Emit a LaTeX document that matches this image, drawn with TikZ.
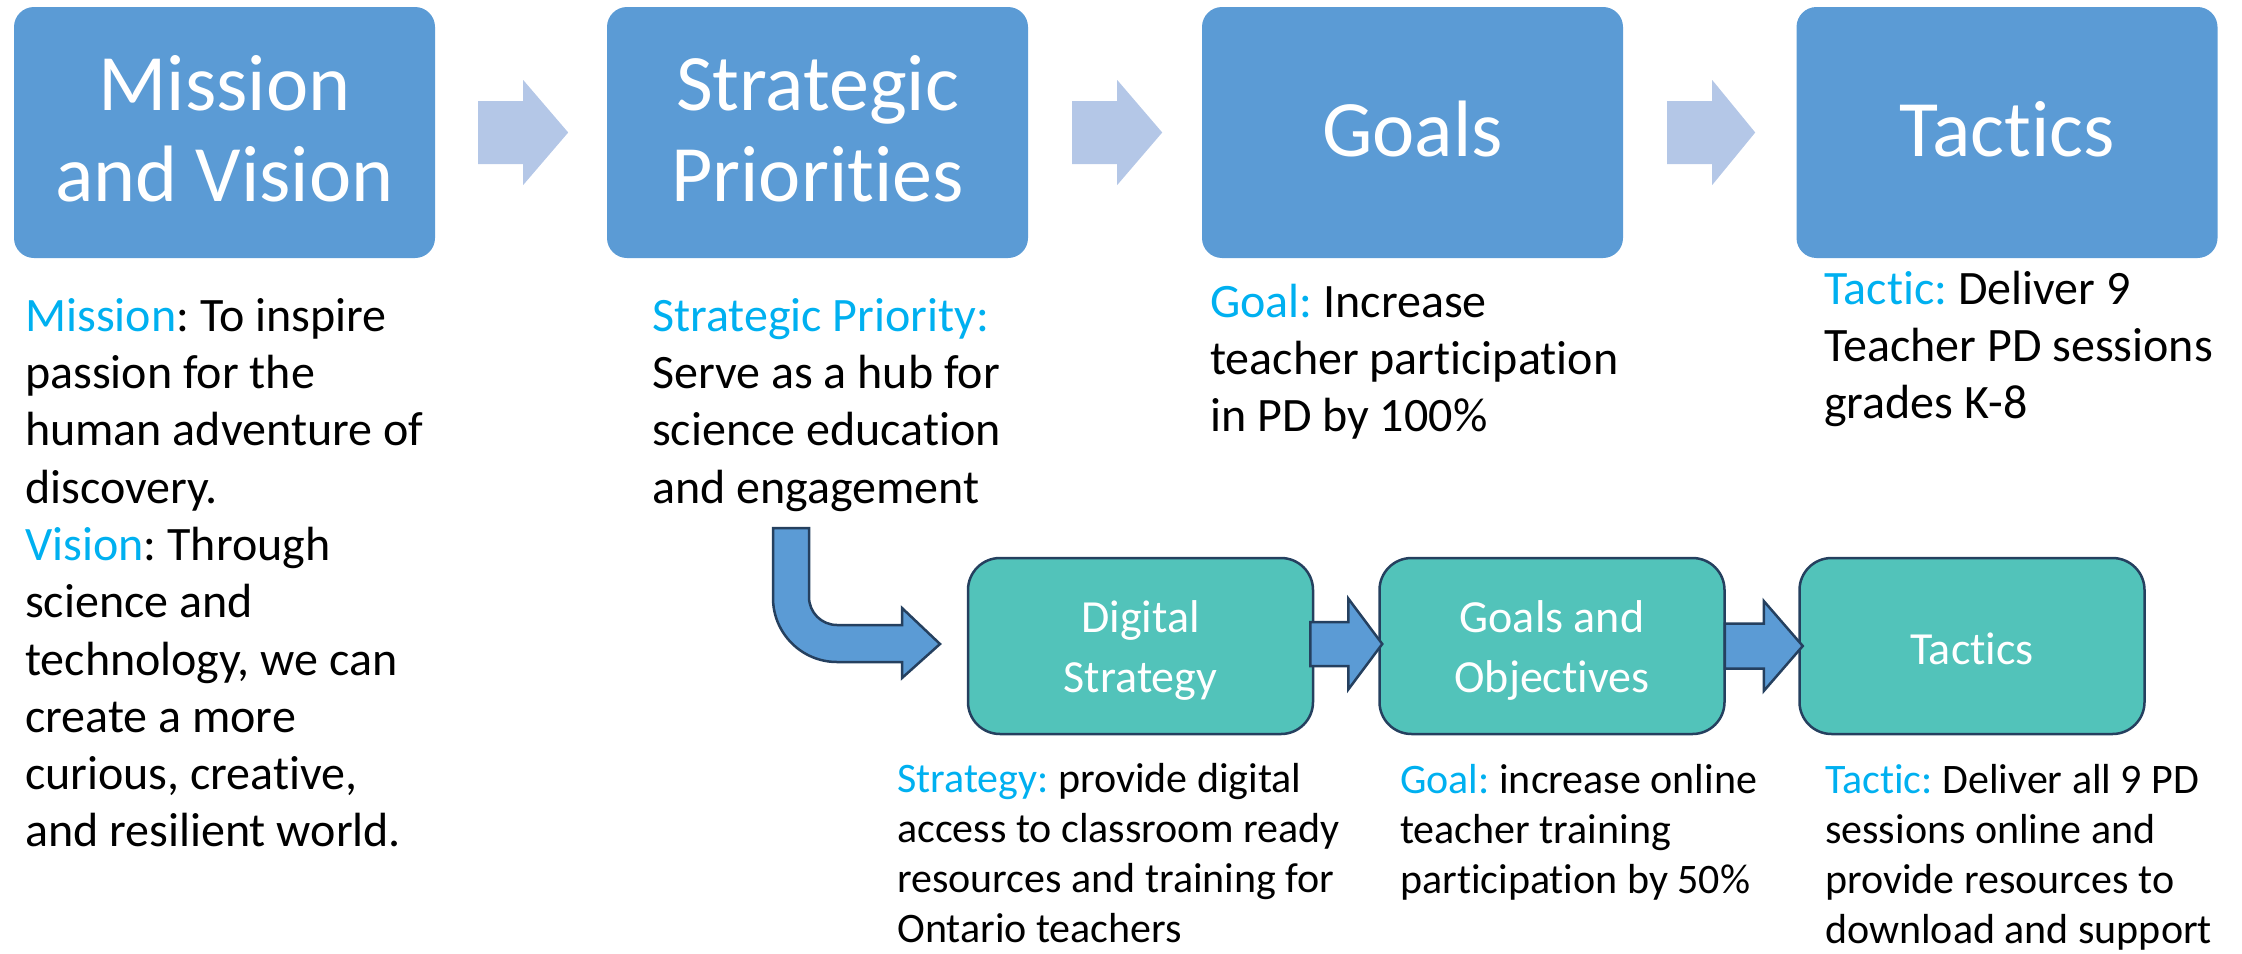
\documentclass[tikz,border=0pt]{standalone}
\usepackage{fontspec}
\setmainfont{Carlito}[Ligatures=NoCommon]
\usetikzlibrary{calc}
\definecolor{boxblue}{HTML}{5B9BD5}
\definecolor{paleblue}{HTML}{B4C7E7}
\definecolor{tealbox}{HTML}{52C3BA}
\definecolor{navy}{HTML}{25405F}
\definecolor{labc}{HTML}{00B0F0}
\frenchspacing
\newcommand{\lab}[1]{\textcolor{labc}{#1}}
\newcommand{\bigstrut}{\rule{0pt}{40pt}}
\newcommand{\smallstrut}{\rule{0pt}{36pt}}
\newcommand{\topstrut}[1]{\rule{0pt}{#1}}
\newcommand{\botstrut}[1]{\rule[-#1]{0pt}{#1}}
% #1 style, #2 start point, #3 length, #4 head length, #5 shaft half width, #6 head half width
\newcommand{\blockarr}[6]{%
  \path[#1, shift={#2}] (0,-#5) -- (#3-#4,-#5) -- (#3-#4,-#6) -- (#3,0) -- (#3-#4,#6) -- (#3-#4,#5) -- (0,#5) -- cycle;}
\tikzset{
  topbox/.style={fill=boxblue, rounded corners=20pt, minimum width=421pt, minimum height=251pt,
    text=white, align=center, font=\fontsize{80}{91}\selectfont, inner sep=0pt},
  tealnode/.style={fill=tealbox, draw=navy, line width=2.5pt, rounded corners=32pt,
    minimum width=345pt, minimum height=176pt, text=white, align=center,
    font=\fontsize{46}{60}\selectfont, inner sep=0pt},
  palearrow/.style={fill=paleblue},
  bluearrow/.style={fill=boxblue, draw=navy, line width=2.5pt, line join=miter},
  bodytext/.style={anchor=north west, align=left, inner sep=0pt, font=\fontsize{48}{57.3}\selectfont},
  smalltext/.style={anchor=north west, align=left, inner sep=0pt, font=\fontsize{42}{50}\selectfont}
}
\begin{document}
\begin{tikzpicture}[x=1pt,y=-1pt]
\path[use as bounding box] (0,0) rectangle (2242,953);

% top row
\node[topbox] (mv) at (224.5,132.5) {\topstrut{70pt}Mission\\and Vision\botstrut{24pt}};
\node[topbox] (sp) at (817.5,132.5) {\topstrut{70pt}Strategic\\Priorities\botstrut{24pt}};
\node[topbox] (go) at (1412.5,132.5) {\topstrut{70pt}Goals\botstrut{23pt}};
\node[topbox] (ta) at (2007,132.5) {\topstrut{70pt}Tactics\botstrut{23pt}};

\blockarr{palearrow}{($(mv.east)+(43,0)$)}{90}{45}{31.5}{52.5}
\blockarr{palearrow}{($(sp.east)+(44,0)$)}{90}{45}{31.5}{52.5}
\blockarr{palearrow}{($(go.east)+(44,0)$)}{88}{43}{31.5}{52.5}

% top texts (first baselines at 331, 331, 317, 304)
\node[bodytext] (mtext) at (25,291) {\bigstrut\lab{Mission}: To inspire\\passion for the\\human adventure of\\discovery.\\\lab{Vision}: Through\\science and\\technology, we can\\create a more\\curious, creative,\\and resilient world.};
\node[bodytext] (sptext) at (652,291) {\bigstrut\lab{Strategic Priority:}\\Serve as a hub for\\science education\\and engagement};
\node[bodytext] (gtext) at (1210,277) {\bigstrut\lab{Goal:} Increase\\teacher participation\\in PD by 100\%};
\node[bodytext] (ttext) at (1824,264) {\bigstrut\lab{Tactic:} Deliver 9\\Teacher PD sessions\\grades K-8};

% bottom row
\node[tealnode] (ds) at (1140.5,646) {\topstrut{45pt}Digital\\Strategy\botstrut{13pt}};
\node[tealnode] (gob) at (1552,646) {\topstrut{45pt}Goals and\\Objectives\botstrut{13pt}};
\node[tealnode] (tb) at (1972,646) {\topstrut{45pt}Tactics\botstrut{9pt}};

\blockarr{bluearrow}{($(ds.east)+(-4,-2)$)}{72}{34}{22}{45.5}
\blockarr{bluearrow}{($(gob.east)+(-1,0)$)}{78}{39}{22.5}{45}

% bent arrow
\draw[bluearrow] (773,528) -- (773,598) .. controls (773,633.3) and (801.7,662) .. (837,662)
  -- (902,662) -- (902,678) -- (940,644) -- (902,608) -- (902,625) -- (837,625)
  .. controls (821.5,625) and (809,612.5) .. (809,597) -- (809,528) -- cycle;

% bottom texts (first baselines at 792/793)
\node[smalltext] (stext) at (897,756) {\smallstrut\lab{Strategy:} provide digital\\access to classroom ready\\resources and training for\\Ontario teachers};
\node[smalltext] (g2text) at (1400,757) {\smallstrut\lab{Goal:} increase online\\teacher training\\participation by 50\%};
\node[smalltext] (t2text) at (1825,757) {\smallstrut\lab{Tactic:} Deliver all 9 PD\\sessions online and\\provide resources to\\download and support};
\end{tikzpicture}
\end{document}
